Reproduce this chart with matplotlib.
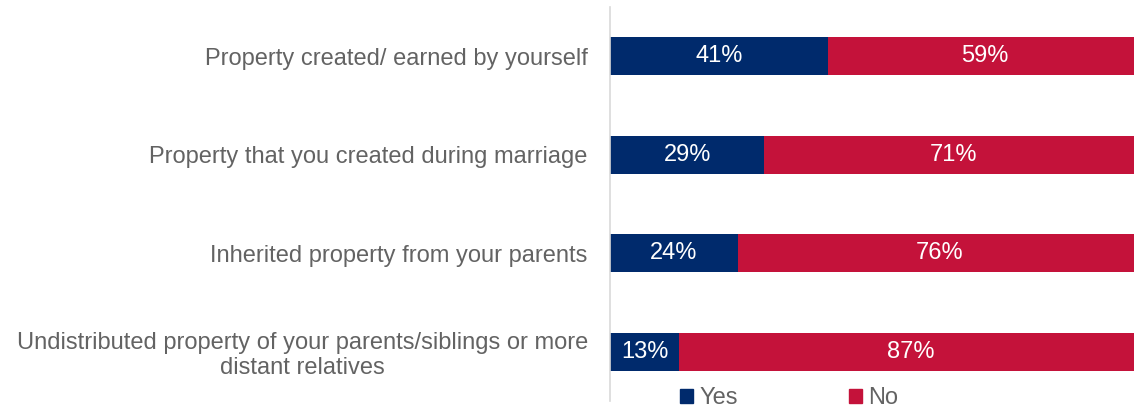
import matplotlib
matplotlib.use("Agg")
import matplotlib.pyplot as plt
from matplotlib.patches import Patch

plt.rcParams['font.family'] = ['Liberation Sans', 'DejaVu Sans']

# Data
categories = [
    "Property created/ earned by yourself",
    "Property that you created during marriage",
    "Inherited property from your parents",
    "Undistributed property of your parents/siblings or more\ndistant relatives",
]
yes_vals = [41, 29, 24, 13]
no_vals = [59, 71, 76, 87]
series_names = ["Yes", "No"]

YES_COLOR = "#002A6C"
NO_COLOR = "#C4123A"
TEXT_GRAY = "#636363"
FS = 17

fig = plt.figure(figsize=(11.34, 4.11), dpi=100)
# axes runs a little past the right edge, as in the original
ax = fig.add_axes([610 / 1134, 10 / 411, 532 / 1134, 394 / 411])

y = list(range(len(categories)))
bh = 0.385
ax.barh(y, yes_vals, height=bh, color=YES_COLOR, label=series_names[0])
ax.barh(y, no_vals, left=yes_vals, height=bh, color=NO_COLOR, label=series_names[1])

for i in y:
    ax.text(yes_vals[i] / 2, i, f"{yes_vals[i]}%", ha='center', va='center',
            color='white', fontsize=FS)
    ax.text(yes_vals[i] + no_vals[i] / 2, i, f"{no_vals[i]}%", ha='center', va='center',
            color='white', fontsize=FS)

ax.set_xlim(0, 100)
ax.set_ylim(len(categories) - 0.5, -0.5)
ax.set_yticks(y)
labels = ax.set_yticklabels(categories, fontsize=FS, color=TEXT_GRAY, multialignment='center')
for lb in labels:
    lb.set_linespacing(1.15)
ax.tick_params(axis='y', length=0, pad=16)
ax.set_xticks([])
for s in ['top', 'right', 'bottom']:
    ax.spines[s].set_visible(False)
ax.spines['left'].set_color('#D9D9D9')
ax.spines['left'].set_linewidth(1.2)

handles = [Patch(color=YES_COLOR), Patch(color=NO_COLOR)]
fig.legend(handles, series_names, loc='center', bbox_to_anchor=(789 / 1134, 1 - 398 / 411),
           ncol=2, frameon=False, fontsize=FS, handlelength=0.55, handleheight=0.55,
           handletextpad=0.25, columnspacing=4.7, labelcolor=TEXT_GRAY, borderpad=0)

fig.savefig("out.png", dpi=100)
